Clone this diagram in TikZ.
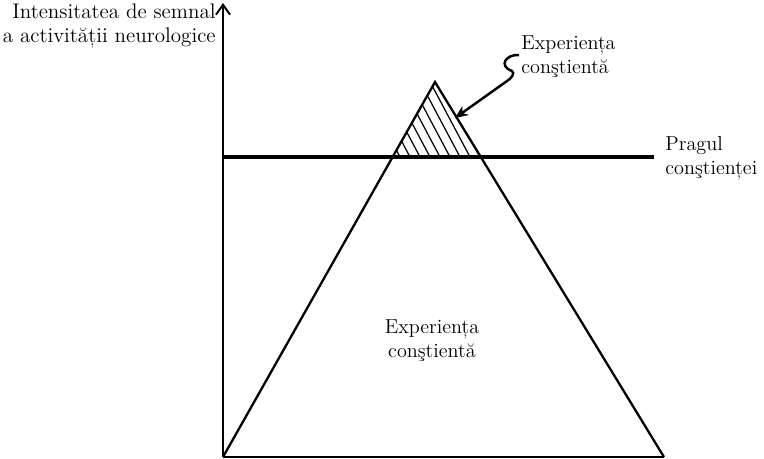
\documentclass[tikz,border=0pt]{standalone}
\usetikzlibrary{arrows.meta}
\newcommand{\lbl}{\fontsize{11.5}{13.6}\selectfont}
\newcommand{\axlbl}{\fontsize{12}{13.6}\selectfont}

\begin{document}
\begin{tikzpicture}[x=0.02cm,y=-0.02cm,
    axis/.style={line width=1.1pt},
    edge/.style={line width=1.3pt},
    hatch/.style={line width=0.7pt},
    txt/.style={inner sep=0pt,font=\lbl}]
  \useasboundingbox (0,0) rectangle (764,458);
  \coordinate (O) at (223,457);
  \coordinate (top) at (223,3);
  \coordinate (R) at (664,457);
  \coordinate (A) at (435,82);
  \coordinate (T1) at (223,157);
  \coordinate (T2) at (654,157);
  \coordinate (P1) at (392.6,157);
  \coordinate (P2) at (480.8,157);
  % hatching above the threshold
  \begin{scope}
    \clip (P1) -- (A) -- (P2) -- cycle;
    \foreach \x in {380,390,...,540}
      \draw[hatch] (\x,157) -- (\x-60,44);
  \end{scope}
  % axes
  \draw[axis,-{Straight Barb[length=2mm,width=2.8mm]}] (O) -- (top);
  \draw[axis] (O) -- (R);
  % triangle
  \draw[edge,line join=miter] (O) -- (A) -- (R);
  % threshold
  \draw[line width=2.8pt] (T1) -- (T2);
  \fill (T2) circle(0.08);
  % labels
  \node[txt,font=\axlbl,anchor=east,align=right] (ylab) at (216,26)
    {Intensitatea de semnal\\a activității neurologice};
  \node[txt,anchor=west,align=left] (prag) at (665,158)
    {Pragul\\conştienței};
  \node[txt,align=center] (jos) at (432,341)
    {Experiența\\conştientă};
  \node[txt,anchor=west,align=left] (sus) at (521,57)
    {Experiența\\conştientă};
  \coordinate (tip) at (455,118);
  \draw[line width=1.4pt,-{Stealth[length=2.6mm,width=2.2mm]}]
    (sus.west) ++(-2,-2) .. controls (506,54) and (498,66) .. (512,71)
    .. controls (515,73) and (512,78) .. (507,81) -- (tip);
\end{tikzpicture}
\end{document}
